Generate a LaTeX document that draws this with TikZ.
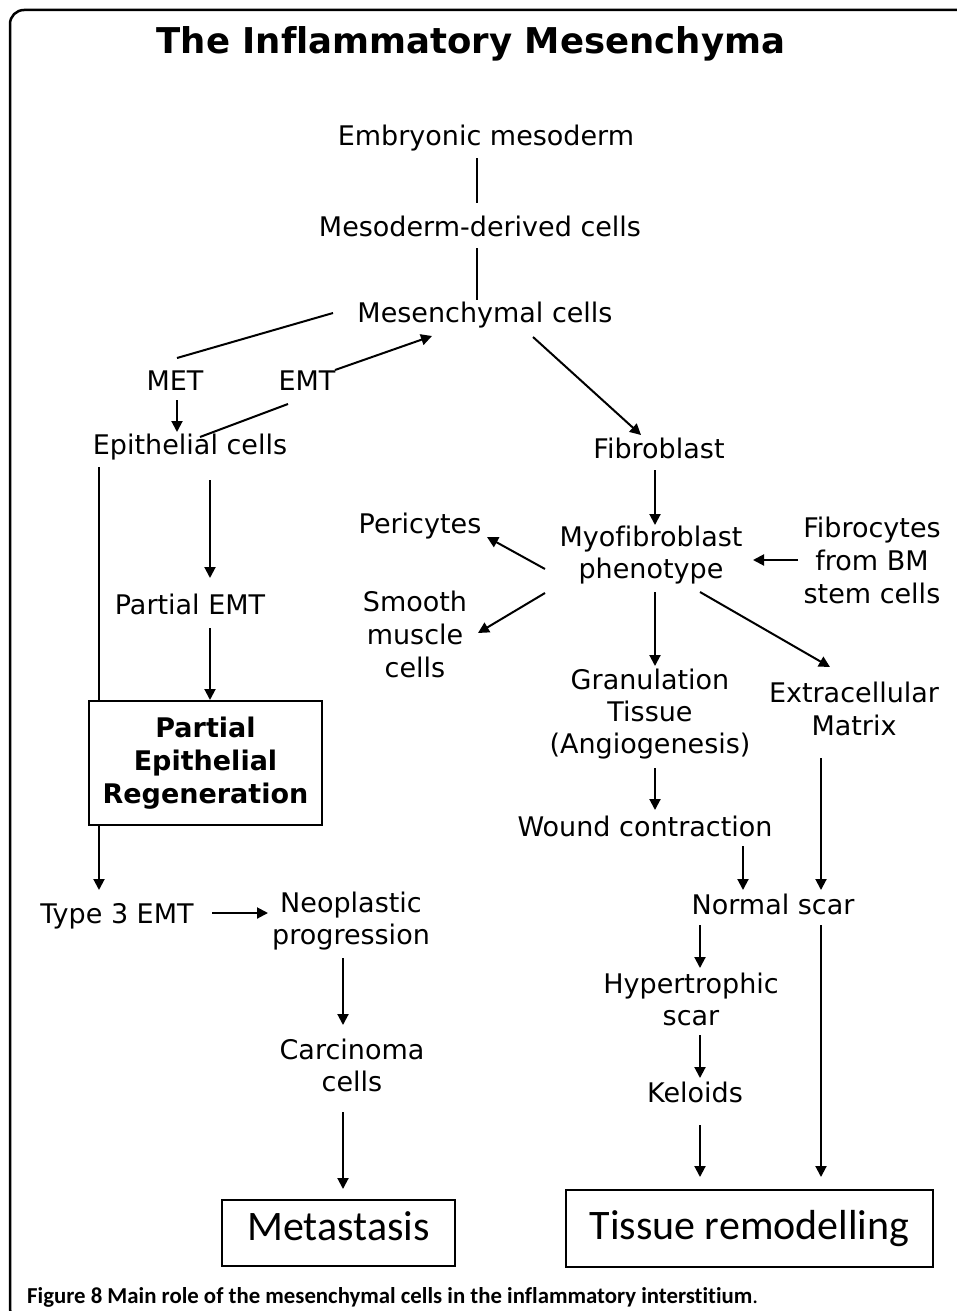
\documentclass[tikz,border=0pt]{standalone}
\usepackage{fontspec}
\setmainfont{DejaVu Sans}[Ligatures=NoCommon]
\newfontfamily\carlito{Carlito}[Ligatures=NoCommon]
\usetikzlibrary{arrows.meta,calc}
\begin{document}
\begin{tikzpicture}[x=1pt,y=-1pt,
  txt/.style={font=\fontsize{27}{32}\selectfont, inner sep=0pt, align=center},
  boxb/.style={draw, line width=2pt, fill=white, inner sep=0pt, align=center},
  arr/.style={line width=2pt, -{Triangle[length=11pt,width=11pt]}},
  ln/.style={line width=2pt}]
\useasboundingbox (0,0) rectangle (957,1311);
\begin{scope}
\clip (0,0) rectangle (957,1311);
\draw[line width=2.5pt, rounded corners=14pt] (975,10) -- (10,10) -- (10,1322) -- (60,1322);
\end{scope}

\node[font=\fontsize{35.5}{40}\selectfont\bfseries, inner sep=0pt] (title) at (471,44) {The Inflammatory Mesenchyma};

\node[txt] (emb) at (486,138) {Embryonic mesoderm};
\node[txt] (mdc) at (480,226) {Mesoderm-derived cells};
\node[txt] (mes) at (485,315) {Mesenchymal cells};
\node[txt] (met) at (175,381) {MET};
\node[txt] (emt) at (307,381) {EMT};
\node[txt] (epi) at (190,447) {Epithelial cells};
\node[txt] (pemt) at (190,604) {Partial EMT};
\node[txt] (t3) at (117,916) {Type 3 EMT};
\node[txt] (neo) at (351,921) {Neoplastic\\progression};
\node[txt] (car) at (352,1065) {Carcinoma\\cells};
\node[txt] (fib) at (659,448) {Fibroblast};
\node[txt] (myo) at (651,555) {Myofibroblast\\phenotype};
\node[txt, font=\fontsize{27}{33}\selectfont] (fbc) at (872,560) {Fibrocytes\\from BM\\stem cells};
\node[txt] (peri) at (420,526) {Pericytes};
\node[txt, font=\fontsize{27}{33}\selectfont] (smc) at (415,634) {Smooth\\muscle\\cells};
\node[txt] (gran) at (650,714) {Granulation\\Tissue\\(Angiogenesis)};
\node[txt, font=\fontsize{27}{33}\selectfont] (ecm) at (854,709) {Extracellular\\Matrix};
\node[txt] (wound) at (645,826) {Wound contraction};
\node[txt] (nscar) at (773,904) {Normal scar};
\node[txt] (hyp) at (691,999) {Hypertrophic\\scar};
\node[txt] (kel) at (695,1092) {Keloids};

% line behind the Partial Epithelial Regeneration box
\draw[arr] ($(epi)+(-91,20)$) -- ($(t3)+(-18,-26)$);

\node[boxb, minimum width=233pt, minimum height=124pt, font=\fontsize{27}{33}\selectfont\bfseries] (per) at (205.5,763) {Partial\\Epithelial\\Regeneration};
\node[boxb, minimum width=233pt, minimum height=66pt, font=\carlito\fontsize{42}{48}\selectfont] (meta) at (338.5,1233) {\raisebox{7pt}[\height][\depth]{Metastasis}};
\node[boxb, minimum width=367pt, minimum height=77pt, font=\carlito\fontsize{42}{48}\selectfont] (tis) at (749.5,1228.5) {Tissue remodelling};

\node[anchor=west, inner sep=0pt, font=\carlito\fontsize{22.8}{26}\selectfont] (cap) at (27,1297) {\textbf{Figure 8 Main role of the mesenchymal cells in the inflammatory interstitium}.};

% connectors
\draw[ln] ($(emb)+(-9,20)$) -- ($(mdc)+(-3,-23)$);
\draw[ln] ($(mdc)+(-3,22)$) -- ($(mes)+(-8,-15)$);
\draw[ln] ($(mes)+(-152,-2)$) -- ($(met)+(2,-23)$);
\draw[arr] ($(met)+(2,19)$) -- ($(epi)+(-13,-15)$);
\draw[ln] ($(epi)+(10,-10)$) -- ($(emt)+(-19,23)$);
\draw[arr] ($(emt)+(28,-11)$) -- ($(mes)+(-53,21)$);
\draw[arr] ($(epi)+(20,33)$) -- ($(pemt)+(20,-26)$);
\draw[arr] ($(pemt)+(20,24)$) -- ($(per.north)+(4.5,0)$);
\draw[arr] ($(t3)+(95,-3)$) -- ($(neo)+(-83,-8)$);
\draw[arr] ($(neo)+(-8,37)$) -- ($(car)+(-9,-40)$);
\draw[arr] ($(car)+(-9,47)$) -- ($(meta.north)+(4.5,-10)$);
\draw[arr] ($(mes)+(48,22)$) -- ($(fib)+(-18,-13)$);
\draw[arr] ($(fib)+(-4,22)$) -- ($(myo)+(4,-30)$);
\draw[arr] ($(fbc)+(-74,0)$) -- ($(myo)+(102,5)$);
\draw[arr] ($(myo)+(-106,14)$) -- ($(peri)+(67,11)$);
\draw[arr] ($(myo)+(-106,38)$) -- ($(smc)+(63,-1)$);
\draw[arr] ($(myo)+(4,37)$) -- ($(gran)+(5,-48)$);
\draw[arr] ($(myo)+(49,37)$) -- ($(ecm)+(-24,-42)$);
\draw[arr] ($(gran)+(5,54)$) -- ($(wound)+(10,-16)$);
\draw[arr] ($(wound)+(98,20)$) -- ($(nscar)+(-30,-14)$);
\draw[arr] ($(ecm)+(-33,49)$) -- ($(nscar)+(48,-14)$);
\draw[arr] ($(nscar)+(-73,21)$) -- ($(hyp)+(9,-31)$);
\draw[arr] ($(hyp)+(9,36)$) -- ($(kel)+(5,-14)$);
\draw[arr] ($(kel)+(5,33)$) -- ($(tis.north)+(-49.5,-12)$);
\draw[arr] ($(nscar)+(48,21)$) -- ($(tis.north)+(71.5,-12)$);
\end{tikzpicture}
\end{document}
